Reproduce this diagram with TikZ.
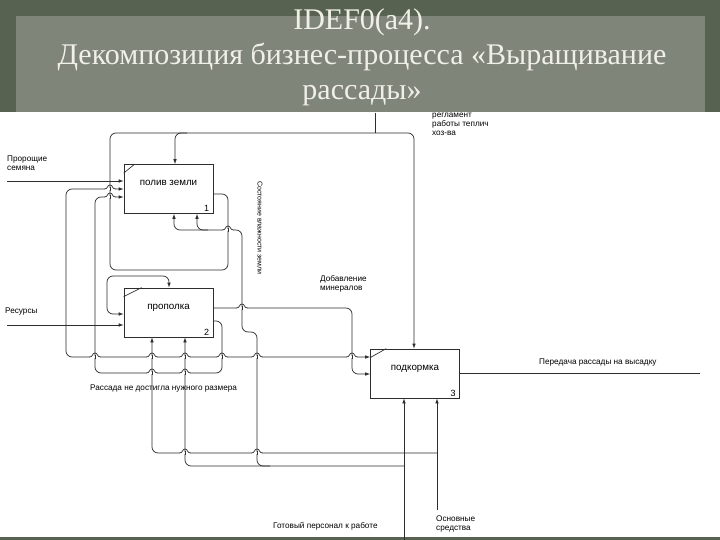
\documentclass[tikz,border=0pt]{standalone}
\usepackage{fontspec}
\setmainfont{Liberation Serif}
\newfontfamily\diagfont{Liberation Sans}
\usetikzlibrary{arrows.meta}
\definecolor{slateframe}{RGB}{88,98,80}
\definecolor{slatepanel}{RGB}{128,133,121}
\definecolor{titleink}{RGB}{240,240,232}
\definecolor{wireink}{RGB}{45,45,45}
% line hop where a horizontal wire passes over a vertical one
\newcommand{\bridge}[2]{%
  \fill[white] (#1-5,#2-1.3) rectangle (#1+5,#2+1.3);
  \draw[wireink, line width=0.7pt] (#1,#2-1.6) -- (#1,#2+1.6);
  \draw[wireink, line width=0.7pt] (#1-5.4,#2) .. controls (#1-2,#2) and (#1-3,#2-4) .. (#1,#2-4)
    .. controls (#1+3,#2-4) and (#1+2,#2) .. (#1+5.4,#2);}

\begin{document}
\begin{tikzpicture}[x=1pt, y=-1pt, >={Latex[length=5pt,width=3.6pt]},
  idefbox/.style={rectangle, draw=wireink, line width=0.7pt, minimum width=89pt, minimum height=49pt,
    text height=7pt, text depth=13pt, inner sep=0pt, font=\diagfont\fontsize{9.8}{11}\selectfont},
  boxnum/.style={anchor=south east, inner sep=0pt, xshift=-4pt, yshift=2pt, font=\diagfont\fontsize{9}{10}\selectfont},
  flow/.style={draw=wireink, line width=0.7pt, rounded corners=6pt},
  lbl/.style={anchor=west, align=left, inner sep=0pt, font=\diagfont\fontsize{8.2}{9}\selectfont},
  titletext/.style={align=center, text=titleink, font=\fontsize{30}{35}\selectfont}]
% Background and title
\useasboundingbox (0,0) rectangle (720,540);
\fill[slateframe] (0,0) rectangle (720,112);
\fill[slatepanel] (16,16) rectangle (705,112);
\fill[white] (0,112) rectangle (720,537);
\fill[slateframe] (0,537) rectangle (720,540);
\node[titletext] (title) at (362,57) {IDEF0(a4).\\Декомпозиция бизнес-процесса «Выращивание\\рассады»};

% Define the activity boxes
\node[idefbox] (poliv) at (168.5,189) {полив земли};
\node[idefbox] (propolka) at (168.5,312.5) {прополка};
\node[idefbox] (podkormka) at (415,373.5) {подкормка};
\node[boxnum] (num1) at (poliv.south east) {1};
\node[boxnum] (num2) at (propolka.south east) {2};
\node[boxnum] (num3) at (podkormka.south east) {3};
% Corner ticks
\draw[wireink, line width=0.7pt] ([yshift=-9pt]poliv.north west) -- ([xshift=11pt]poliv.north west);
\draw[wireink, line width=0.7pt] ([yshift=-9pt]propolka.north west) -- ([xshift=18pt]propolka.north west);
\draw[wireink, line width=0.7pt] ([yshift=-9pt]podkormka.north west) -- ([xshift=16pt]podkormka.north west);

% Free ends of the arrows
\coordinate (seeds) at (7,181);
\coordinate (resources) at (7,325);
\coordinate (rules) at (375,113);
\coordinate (staff) at (404,540);
\coordinate (assets) at (437,510);
\coordinate (handover) at (700,373);

% Arrow labels
\node[lbl] (seeds_lbl) at (7,163) {Пророщие\\семяна};
\node[lbl] (resources_lbl) at (5,312) {Ресурсы};
\node[lbl] (rules_lbl) at (432,124) {регламент\\работы теплич\\хоз-ва};
\node[lbl, anchor=center, rotate=-90, font=\diagfont\fontsize{7}{8}\selectfont] (moisture_lbl) at (260,228) {Состояние влажности земли};
\node[lbl] (minerals_lbl) at (320,284) {Добавление\\минералов};
\node[lbl] (small_lbl) at (90,389) {Рассада не достигла нужного размера};
\node[lbl] (handover_lbl) at (539,363) {Передача рассады на высадку};
\node[lbl] (staff_lbl) at (273,526) {Готовый персонал к работе};
\node[lbl] (assets_lbl) at (436,524) {Основные\\средства};

% Draw the arrows
\draw[flow,->] (seeds) -- (poliv.west |- 0,181);
\draw[flow,->] (resources) -- (propolka.west |- 0,325);
\draw[flow,<->] (poliv.west |- 0,189) -- (66,189) -- (66,357) -- (podkormka.west |- 0,357);
\draw[flow,->] (propolka.east |- 0,321) -- (222,321) -- (222,373) -- (95,373) -- (95,197) -- (poliv.west |- 0,197);
\draw[flow,->] (poliv.east |- 0,194) -- (228,194) -- (228,270) -- (110,270) -- (110,133) -- (414,133)
  -- (podkormka.north -| 414,0);
\draw[flow] (rules) -- (375,133);
\draw[flow,->] (187,133) -- (175,133) -- (poliv.north -| 175,0);
\draw[flow,<->] (propolka.north -| 169,0) -- (169,276) -- (107,276) -- (107,314) -- (propolka.west |- 0,314);
\draw[flow,->] (propolka.east |- 0,308) -- (352,308) -- (352,374) -- (podkormka.west |- 0,374);
\draw[flow] (podkormka.east |- 0,373) -- (handover);
\draw[flow,->] (staff) -- (podkormka.south -| 404,0);
\draw[flow,->] (404,466) -- (185,466) -- (propolka.south -| 185,0);
\draw[flow,->] (270,466) -- (257,466) -- (257,332) -- (242,332) -- (242,230) -- (174,230) -- (poliv.south -| 174,0);
\draw[flow,->] (208,230) -- (197,230) -- (poliv.south -| 197,0);
\draw[flow,->] (assets) -- (podkormka.south -| 437,0);
\draw[flow,->] (437,453) -- (152,453) -- (propolka.south -| 152,0);

% Hops at the crossings
\foreach \hx/\hy in {110/189, 110/197, 95/357, 152/357, 185/357, 222/357, 257/357, 352/357,
  152/373, 185/373, 242/308, 228/230, 257/453, 185/453}
  {\bridge{\hx}{\hy}}
\end{tikzpicture}
\end{document}
